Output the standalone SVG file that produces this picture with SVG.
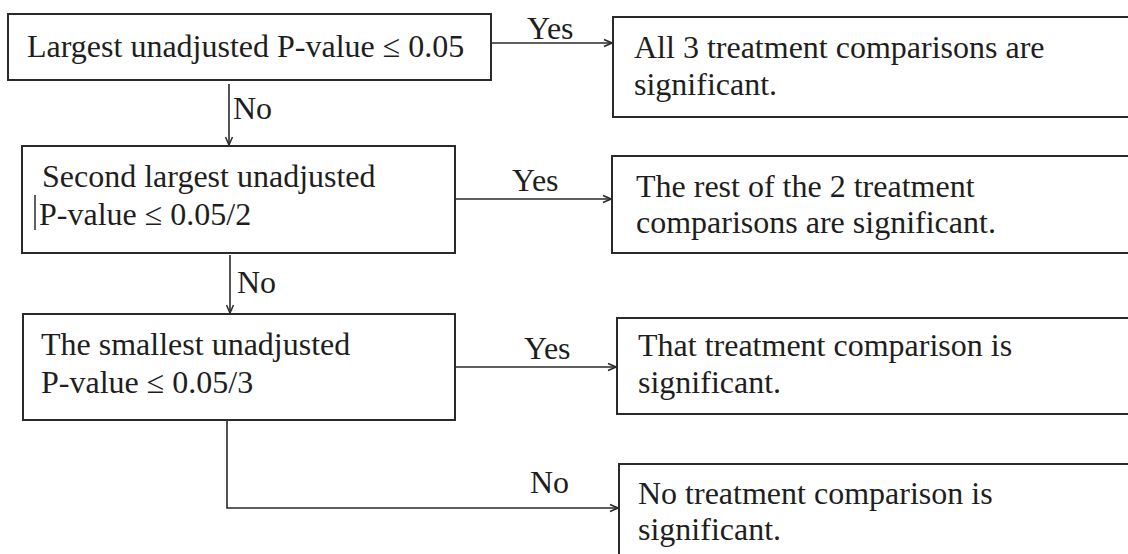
<svg xmlns="http://www.w3.org/2000/svg" width="1128" height="554" viewBox="0 0 1128 554">
  <style>
    .box { fill: #ffffff; stroke: #2a2a2a; stroke-width: 2; }
    .t { font-family: "Liberation Serif", "Times New Roman", serif; font-size: 32px; fill: #1e1e1e; }
    .c { fill: none; stroke: #2a2a2a; stroke-width: 1.6; }
  </style>
  <defs>
    <marker id="ah" viewBox="0 0 10 10" refX="9" refY="5" markerWidth="10" markerHeight="10" markerUnits="userSpaceOnUse" orient="auto">
      <path d="M1,1.5 L9,5 L1,8.5" fill="none" stroke="#2a2a2a" stroke-width="1.5"/>
    </marker>
  </defs>
  <rect width="1128" height="554" fill="#ffffff"/>

  <g id="connectors">
    <line class="c" x1="491" y1="43" x2="612" y2="43" marker-end="url(#ah)"/>
    <line class="c" x1="229" y1="84" x2="229" y2="145" marker-end="url(#ah)"/>
    <line class="c" x1="455" y1="199" x2="611" y2="199" marker-end="url(#ah)"/>
    <line class="c" x1="230" y1="255" x2="230" y2="313" marker-end="url(#ah)"/>
    <line class="c" x1="455" y1="367" x2="616" y2="367" marker-end="url(#ah)"/>
    <path class="c" d="M227,420 V508 H618" marker-end="url(#ah)"/>
    <text class="t" x="527" y="39">Yes</text>
    <text class="t" x="233" y="119">No</text>
    <text class="t" x="512" y="191">Yes</text>
    <text class="t" x="237" y="293">No</text>
    <text class="t" x="524" y="359">Yes</text>
    <text class="t" x="530" y="493">No</text>
  </g>

  <g id="n1">
    <rect class="box" x="8" y="14" width="483" height="66"/>
    <text class="t" x="27" y="57">Largest unadjusted P-value ≤ 0.05</text>
  </g>
  <g id="n2">
    <rect class="box" x="22" y="146" width="433" height="107"/>
    <text class="t" x="42" y="187">Second largest unadjusted</text>
    <line x1="35" y1="195" x2="35" y2="230" stroke="#2a2a2a" stroke-width="1.5"/>
    <text class="t" x="39" y="225">P-value ≤ 0.05/2</text>
  </g>
  <g id="n3">
    <rect class="box" x="23" y="314" width="432" height="106"/>
    <text class="t" x="41" y="355">The smallest unadjusted</text>
    <text class="t" x="41" y="393">P-value ≤ 0.05/3</text>
  </g>
  <g id="nA">
    <rect class="box" x="613" y="17" width="520" height="100"/>
    <text class="t" x="634" y="58">All 3 treatment comparisons are</text>
    <text class="t" x="634" y="95">significant.</text>
  </g>
  <g id="nB">
    <rect class="box" x="612" y="156" width="521" height="97"/>
    <text class="t" x="636" y="197">The rest of the 2 treatment</text>
    <text class="t" x="636" y="233">comparisons are significant.</text>
  </g>
  <g id="nC">
    <rect class="box" x="617" y="318" width="516" height="96"/>
    <text class="t" x="638" y="356">That treatment comparison is</text>
    <text class="t" x="638" y="393">significant.</text>
  </g>
  <g id="nD">
    <rect class="box" x="619" y="464" width="514" height="100"/>
    <text class="t" x="638" y="504">No treatment comparison is</text>
    <text class="t" x="638" y="540">significant.</text>
  </g>
</svg>
